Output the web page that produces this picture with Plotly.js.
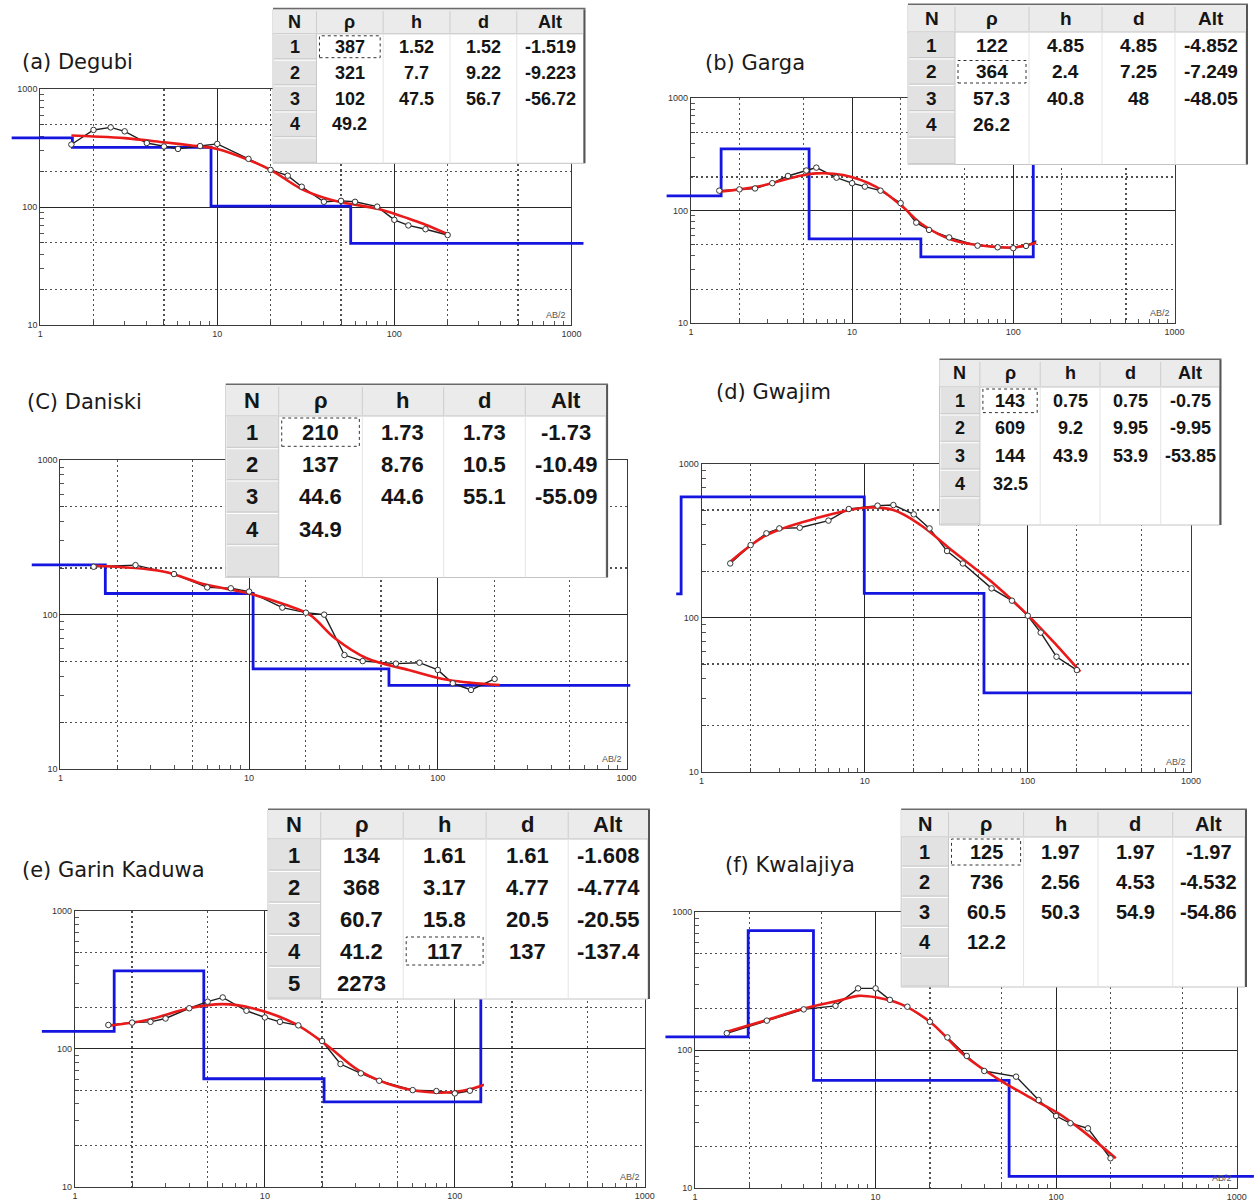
<!DOCTYPE html>
<html>
<head>
<meta charset="utf-8">
<script src="https://cdn.plot.ly/plotly-3.0.1.min.js"></script>
<style>
  html, body { margin:0; padding:0; background:#ffffff; }
  #chart { width:1254px; height:1201px; }
</style>
</head>
<body>
<div id="chart"></div>
<script>
// ================= DATA =================
// (a) Degubi
const abObsA  = [1.5, 2, 2.5, 3, 4, 5, 6, 8, 10, 15, 20, 25, 30, 40, 50, 60, 80, 100, 120, 150, 200];
const rhoObsA = [340, 452, 475, 440, 350, 327, 312, 330, 344, 257, 207, 185, 149, 111, 113, 111, 101, 78, 70, 65, 58];
const abFitA  = [1.5, 2, 3, 5, 7, 10, 15, 20, 30, 40, 50, 60, 80, 100, 120, 150, 200];
const rhoFitA = [405, 398, 385, 355, 335, 312, 252, 207, 142, 120, 110, 105, 97, 88, 80, 71, 59];
const modelRhoA = [387, 321, 102, 49.2];
const modelDepthA = [1.52, 9.22, 56.7];
const modelSpanA = [0.69, 1170];
const tabNA = ['1', '2', '3', '4'];
const tabRhoA = ['387', '321', '102', '49.2'];
const tabHA = ['1.52', '7.7', '47.5', ''];
const tabDA = ['1.52', '9.22', '56.7', ''];
const tabAltA = ['-1.519', '-9.223', '-56.72', ''];

// (b) Garga
const abObsB  = [1.5, 2, 2.5, 3.2, 4, 5.2, 6, 8, 10, 12, 15, 20, 25, 30, 40, 60, 80, 100, 120, 150, 200];
const rhoObsB = [151, 155, 158, 176, 204, 228, 242, 197, 176, 164, 151, 117, 78.5, 67.6, 58, 49, 47.4, 46.5, 48.7, 57, 67.6];
const abFitB  = [1.5, 2.6, 4.5, 6, 8.8, 14, 20.5, 27, 42, 74, 104, 145, 209];
const rhoFitB = [148, 164, 201, 215, 208, 164, 109, 76.4, 55, 48, 47.5, 53, 67.6];
const modelRhoB = [136, 355, 56.4, 38.9, 2200];
const modelDepthB = [1.54, 5.41, 26.7, 133];
const modelSpanB = [0.707, 133];
const tabNB = ['1', '2', '3', '4'];
const tabRhoB = ['122', '364', '57.3', '26.2'];
const tabHB = ['4.85', '2.4', '40.8', ''];
const tabDB = ['4.85', '7.25', '48', ''];
const tabAltB = ['-4.852', '-7.249', '-48.05', ''];

// (c) Daniski
const abObsC  = [1.5, 2.5, 4, 6, 8, 10, 15, 20, 25, 32, 40, 60, 80, 100, 120, 150, 200];
const rhoObsC = [204, 209, 183, 150, 148, 141, 111, 103, 100, 54.8, 50.1, 48.2, 48.9, 43.9, 36, 32.6, 38.4];
const abFitC  = [1.5, 3.5, 5.8, 10, 15.6, 21, 28.5, 42, 70, 114, 213];
const rhoFitC = [207, 190, 157, 137, 116, 99.6, 70.3, 52.2, 43.9, 37.8, 35.1];
const modelRhoC = [210, 137, 44.6, 34.9];
const modelDepthC = [1.73, 10.5, 55.1];
const modelSpanC = [0.705, 1047];
const tabNC = ['1', '2', '3', '4'];
const tabRhoC = ['210', '137', '44.6', '34.9'];
const tabHC = ['1.73', '8.76', '44.6', ''];
const tabDC = ['1.73', '10.5', '55.1', ''];
const tabAltC = ['-1.73', '-10.49', '-55.09', ''];

// (d) Gwajim
const abObsD  = [1.5, 2, 2.5, 3, 4, 6, 8, 12, 15, 20, 25, 32, 40, 60, 80, 100, 120, 150, 200];
const rhoObsD = [225, 296, 353, 380, 384, 427, 508, 534, 539, 469, 380, 271, 225, 155, 129, 103, 80, 55.8, 45.7];
const abFitD  = [1.5, 2.5, 5, 10, 15, 22, 35, 60, 100, 150, 210];
const rhoFitD = [231, 344, 441, 518, 500, 400, 269, 171, 104, 66.4, 44.6];
const modelRhoD = [143, 609, 144, 32.5];
const modelDepthD = [0.75, 9.95, 53.9];
const modelSpanD = [0.70, 1017];
const tabND = ['1', '2', '3', '4'];
const tabRhoD = ['143', '609', '144', '32.5'];
const tabHD = ['0.75', '9.2', '43.9', ''];
const tabDD = ['0.75', '9.95', '53.9', ''];
const tabAltD = ['-0.75', '-9.95', '-53.85', ''];

// (e) Garin Kaduwa
const abObsE  = [1.5, 2, 2.5, 3, 4, 5, 6, 8, 10, 12, 15, 20, 25, 32, 40, 60, 80, 100, 120, 150, 200];
const rhoObsE = [149, 155, 157, 166, 197, 220, 236, 189, 169, 157, 148, 114, 77.6, 66.4, 58.7, 50.2, 49.4, 47.5, 49.7, 56.9, 65.3];
const abFitE  = [1.5, 2.4, 4, 6, 8.6, 14.3, 21.6, 31, 51, 81, 110, 150, 208];
const rhoFitE = [147, 162, 197, 211, 197, 153, 104, 70.2, 52.6, 48.1, 49.7, 56.2, 68.3];
const modelRhoE = [134, 368, 60.7, 41.2, 2273];
const modelDepthE = [1.61, 4.77, 20.5, 137];
const modelSpanE = [0.67, 137];
const tabNE = ['1', '2', '3', '4', '5'];
const tabRhoE = ['134', '368', '60.7', '41.2', '2273'];
const tabHE = ['1.61', '3.17', '15.8', '117', ''];
const tabDE = ['1.61', '4.77', '20.5', '137', ''];
const tabAltE = ['-1.608', '-4.774', '-20.55', '-137.4', ''];

// (f) Kwalajiya
const abObsF  = [1.5, 2.5, 4, 6, 8, 10, 12, 15, 20, 25, 32, 40, 60, 80, 100, 120, 150, 200];
const rhoObsF = [133, 164, 198, 210, 281, 281, 232, 207, 161, 124, 91, 70.8, 64.4, 43.6, 33.4, 29.6, 27.2, 16.5];
const abFitF  = [1.5, 2.5, 4, 6.5, 8, 10, 13.7, 20, 31.6, 47, 76, 103, 138, 214];
const rhoFitF = [136, 166, 201, 232, 248, 242, 217, 161, 90, 62.7, 43.6, 34.9, 26.5, 16.5];
const modelRhoF = [125, 736, 60.5, 12.2];
const modelDepthF = [1.97, 4.53, 54.9];
const modelSpanF = [0.686, 1245];
const tabNF = ['1', '2', '3', '4'];
const tabRhoF = ['125', '736', '60.5', '12.2'];
const tabHF = ['1.97', '2.56', '50.3', ''];
const tabDF = ['1.97', '4.53', '54.9', ''];
const tabAltF = ['-1.97', '-4.532', '-54.86', ''];

// labels and ticks
const titles = ['(a) Degubi', '(b) Garga', '(C) Daniski', '(d) Gwajim', '(e) Garin Kaduwa', '(f) Kwalajiya'];
const tableHeader = ['N', 'ρ', 'h', 'd', 'Alt'];
const xAxisLabel = 'AB/2';
const xTickVals = [1, 10, 100, 1000];
const xTickText = ['1', '10', '100', '1000'];
const yTickVals = [10, 100, 1000];
const yTickText = ['10', '100', '1000'];
const xGridMinor = [2, 5, 20, 50, 200, 500];
const yGridMinor = [20, 50, 200, 500];
const xTickMinor = [3, 4, 6, 7, 8, 9, 30, 40, 60, 70, 80, 90, 300, 400, 600, 700, 800, 900];
const yTickMinor = [30, 40, 60, 70, 80, 90, 300, 400, 600, 700, 800, 900];

// ================= LAYOUT (positions / styles) =================
const W = 1254, H = 1201;
// plot frame in px: [left, right, top, bottom]
const frames = [
  [40.2, 571.4, 89.3, 325],
  [690.9, 1174.5, 98.3, 323.3],
  [60.4, 626.5, 460, 769.3],
  [701.5, 1190.9, 463.7, 771.7],
  [74.9, 644.8, 911, 1186.7],
  [695, 1236.7, 912.3, 1188.3]
];
// table box: left, right, top, header height, row height, font size, column width ratios
const tableGeom = [
  {l: 273, r: 583.5, t: 9.3, hh: 24.5, rh: 25.9, fs: 18, cw: [43.4, 66.6, 66.7, 66.7, 66.6], empty: true, sel: [0, 1]},
  {l: 908, r: 1246, t: 5, hh: 27, rh: 26.5, fs: 19, cw: [47, 74, 73, 73, 71], empty: true, sel: [1, 1]},
  {l: 225.7, r: 606.1, t: 385, hh: 31, rh: 32.3, fs: 22, cw: [53, 83.6, 81.3, 81.6, 80.8], empty: true, sel: [0, 1]},
  {l: 939.5, r: 1219.5, t: 360, hh: 27, rh: 27.6, fs: 18, cw: [40.4, 60.3, 59.8, 60.7, 58.8], empty: true, sel: [0, 1]},
  {l: 268, r: 648, t: 810, hh: 29, rh: 32, fs: 22, cw: [52.7, 82.5, 82.9, 82.1, 79.8], empty: false, sel: [3, 2]},
  {l: 901.2, r: 1245, t: 810, hh: 27, rh: 30, fs: 20, cw: [47.3, 75.1, 74.4, 74.7, 72.3], empty: true, sel: [0, 1]}
];
const titlePos = [[20, 61.7], [702.6, 63], [24.5, 401.7], [714, 391.7], [20, 870], [723, 865]];

const panels = [
  {obsX: abObsA, obsY: rhoObsA, fitX: abFitA, fitY: rhoFitA, mRho: modelRhoA, mDep: modelDepthA, mSpan: modelSpanA, cols: [tabNA, tabRhoA, tabHA, tabDA, tabAltA]},
  {obsX: abObsB, obsY: rhoObsB, fitX: abFitB, fitY: rhoFitB, mRho: modelRhoB, mDep: modelDepthB, mSpan: modelSpanB, cols: [tabNB, tabRhoB, tabHB, tabDB, tabAltB]},
  {obsX: abObsC, obsY: rhoObsC, fitX: abFitC, fitY: rhoFitC, mRho: modelRhoC, mDep: modelDepthC, mSpan: modelSpanC, cols: [tabNC, tabRhoC, tabHC, tabDC, tabAltC]},
  {obsX: abObsD, obsY: rhoObsD, fitX: abFitD, fitY: rhoFitD, mRho: modelRhoD, mDep: modelDepthD, mSpan: modelSpanD, cols: [tabND, tabRhoD, tabHD, tabDD, tabAltD]},
  {obsX: abObsE, obsY: rhoObsE, fitX: abFitE, fitY: rhoFitE, mRho: modelRhoE, mDep: modelDepthE, mSpan: modelSpanE, cols: [tabNE, tabRhoE, tabHE, tabDE, tabAltE]},
  {obsX: abObsF, obsY: rhoObsF, fitX: abFitF, fitY: rhoFitF, mRho: modelRhoF, mDep: modelDepthF, mSpan: modelSpanF, cols: [tabNF, tabRhoF, tabHF, tabDF, tabAltF]}
];

const tickFont = {family: 'Liberation Sans, Arial, sans-serif', size: 9, color: '#333333'};
const tabFont = 'Liberation Sans, Arial, sans-serif';
const titleFont = {family: 'DejaVu Sans, Verdana, sans-serif', size: 21, color: '#1a1a1a'};

function axId(n) { return n === 1 ? '' : String(n); }
const PX = v => v / W;
const PY = v => 1 - v / H;

const traces = [];
const shapes = [];
const annotations = [];
const layout = {
  width: W, height: H,
  margin: {l: 0, r: 0, t: 0, b: 0, pad: 0},
  paper_bgcolor: '#ffffff', plot_bgcolor: 'rgba(0,0,0,0)',
  showlegend: false
};

function rect(x0, x1, y0, y1, fill, lineColor, lineWidth, dash) {
  shapes.push({type: 'rect', xref: 'paper', yref: 'paper', layer: 'above',
    x0: PX(x0), x1: PX(x1), y0: PY(y1), y1: PY(y0),
    fillcolor: fill || 'rgba(0,0,0,0)',
    line: {color: lineColor || 'rgba(0,0,0,0)', width: lineWidth || 0, dash: dash || 'solid'}});
}
function seg(x0, y0, x1, y1, color, width) {
  shapes.push({type: 'line', xref: 'paper', yref: 'paper', layer: 'above',
    x0: PX(x0), x1: PX(x1), y0: PY(y0), y1: PY(y1), line: {color: color, width: width || 1}});
}

panels.forEach((p, k) => {
  const i = k + 1;
  const [L, R, T, B] = frames[k];
  const dx = (R - L) / 3;
  const xDom = [L / W, R / W];
  const yDom = [1 - B / H, 1 - T / H];

  layout['xaxis' + axId(i)] = {
    type: 'log', range: [0, 3], domain: xDom, anchor: 'y' + axId(i),
    tickmode: 'array', tickvals: xTickVals, ticktext: xTickText, ticks: '',
    showgrid: true, gridcolor: '#262626', gridwidth: 1,
    showline: true, linecolor: '#3a3a3a', linewidth: 1, mirror: true,
    zeroline: false, tickfont: tickFont, fixedrange: true,
    minor: {tickmode: 'array', tickvals: xGridMinor, showgrid: true, gridcolor: '#505050',
            griddash: '2px,3px', gridwidth: 1.2, ticks: 'inside', ticklen: 4, tickcolor: '#444444'}
  };
  layout['yaxis' + axId(i)] = {
    type: 'log', range: [1, 3], domain: yDom, anchor: 'x' + axId(i),
    tickmode: 'array', tickvals: yTickVals, ticktext: yTickText, ticks: '',
    showgrid: true, gridcolor: '#262626', gridwidth: 1,
    showline: true, linecolor: '#3a3a3a', linewidth: 1, mirror: true,
    zeroline: false, tickfont: tickFont, fixedrange: true,
    minor: {tickmode: 'array', tickvals: yGridMinor, showgrid: true, gridcolor: '#505050',
            griddash: '2px,3px', gridwidth: 1.2, ticks: 'inside', ticklen: 4, tickcolor: '#444444'}
  };
  layout['xaxis' + (12 + i)] = {
    type: 'log', range: [0, 3], overlaying: 'x' + axId(i), anchor: 'y' + axId(i),
    tickmode: 'array', tickvals: xTickMinor, showticklabels: false,
    ticks: 'inside', ticklen: 4, tickcolor: '#555555',
    showgrid: false, showline: false, zeroline: false, fixedrange: true
  };
  layout['yaxis' + (12 + i)] = {
    type: 'log', range: [1, 3], overlaying: 'y' + axId(i), anchor: 'x' + axId(i),
    tickmode: 'array', tickvals: yTickMinor, showticklabels: false,
    ticks: 'inside', ticklen: 4, tickcolor: '#555555',
    showgrid: false, showline: false, zeroline: false, fixedrange: true
  };
  // hidden axes with identical scale but a wider span, so the model line can run past the frame
  const p0 = Math.max(0, L + Math.log10(p.mSpan[0]) * dx - 1);
  const p1 = Math.min(W, L + Math.log10(p.mSpan[1]) * dx + 3);
  layout['xaxis' + (6 + i)] = {
    type: 'log', domain: [p0 / W, p1 / W], range: [(p0 - L) / dx, (p1 - L) / dx],
    anchor: 'y' + (6 + i), visible: false, fixedrange: true
  };
  layout['yaxis' + (6 + i)] = {
    type: 'log', domain: yDom, range: [1, 3], anchor: 'x' + (6 + i), visible: false, fixedrange: true
  };
  const xa = 'x' + (6 + i), ya = 'y' + (6 + i);

  // invisible placeholders so the frame subplot and tick-overlay axes are drawn
  const ghost = {type: 'scatter', mode: 'markers', x: [10], y: [100], marker: {opacity: 0, size: 1}, hoverinfo: 'skip'};
  traces.push(Object.assign({}, ghost, {xaxis: 'x' + axId(i), yaxis: 'y' + axId(i)}));
  traces.push(Object.assign({}, ghost, {xaxis: 'x' + (12 + i), yaxis: 'y' + axId(i)}));
  traces.push(Object.assign({}, ghost, {xaxis: 'x' + axId(i), yaxis: 'y' + (12 + i)}));

  // model step line from layer resistivities and depths
  const sx = [p.mSpan[0]], sy = [p.mRho[0]];
  p.mDep.forEach((d, j) => { sx.push(d, d); sy.push(p.mRho[j], p.mRho[j + 1]); });
  sx.push(p.mSpan[1]); sy.push(p.mRho[p.mRho.length - 1]);
  traces.push({type: 'scatter', mode: 'lines', x: sx, y: sy, xaxis: xa, yaxis: ya,
    line: {color: '#1515e0', width: 2.8}, hoverinfo: 'skip'});
  traces.push({type: 'scatter', mode: 'lines', x: p.obsX, y: p.obsY, xaxis: xa, yaxis: ya,
    line: {color: '#1e1e1e', width: 1.4}, hoverinfo: 'skip'});
  traces.push({type: 'scatter', mode: 'lines', x: p.fitX, y: p.fitY, xaxis: xa, yaxis: ya,
    line: {color: '#ea1a1a', width: 2.6, shape: 'spline', smoothing: 1}, hoverinfo: 'skip'});
  traces.push({type: 'scatter', mode: 'markers', x: p.obsX, y: p.obsY, xaxis: xa, yaxis: ya,
    marker: {symbol: 'circle', size: 5.5, color: '#ffffff', line: {color: '#333333', width: 1}}, hoverinfo: 'skip'});

  // ---- parameter table (drawn with shapes + annotations) ----
  const g = tableGeom[k];
  const nRows = p.cols[0].length + (g.empty ? 1 : 0);
  const sc = (g.r - g.l) / g.cw.reduce((a, b) => a + b, 0);
  const xs = [g.l];
  g.cw.forEach(w => xs.push(xs[xs.length - 1] + w * sc));
  const top = g.t, hb = g.t + g.hh, bottom = hb + nRows * g.rh;
  rect(g.l, g.r, top, bottom, '#ffffff', '#c4c4c4', 1);
  rect(g.l, g.r, top, hb, '#ebebeb');
  for (let c = 1; c < 5; c++) seg(xs[c], top + 2, xs[c], hb - 1, '#cdcdcd', 1);
  seg(g.l, hb, g.r, hb, '#c2c2c2', 1);
  for (let c = 2; c < 5; c++) seg(xs[c], hb, xs[c], bottom, '#e4e4e4', 1);
  for (let r = 0; r < nRows; r++) {
    const y0 = hb + r * g.rh;
    rect(xs[0] + 1, xs[1], y0 + 1, y0 + g.rh, '#e2e2e2');
    seg(xs[0] + 1, y0 + g.rh - 1, xs[1], y0 + g.rh - 1, '#cacaca', 1);
  }
  seg(xs[1], hb, xs[1], bottom, '#c8c8c8', 1);
  // dark window edge along the top and right
  rect(g.l, g.r + 2, top - 1.5, top, '#6a6a6a');
  rect(g.r, g.r + 2, top, bottom, '#555555');
  // dotted "selected cell" box
  const sy0 = hb + g.sel[0] * g.rh;
  rect(xs[g.sel[1]] + 3, xs[g.sel[1] + 1] - 3, sy0 + 2, sy0 + g.rh - 2, null, '#333333', 1, 'dot');
  // header and cell text
  const fnt = {family: tabFont, size: g.fs, color: '#151515'};
  tableHeader.forEach((h, c) => {
    annotations.push({xref: 'paper', yref: 'paper', x: PX((xs[c] + xs[c + 1]) / 2), y: PY(top + g.hh / 2),
      xanchor: 'center', yanchor: 'middle', text: '<b>' + h + '</b>', showarrow: false, font: fnt});
  });
  p.cols.forEach((col, c) => {
    col.forEach((v, r) => {
      if (!v) return;
      annotations.push({xref: 'paper', yref: 'paper', x: PX((xs[c] + xs[c + 1]) / 2), y: PY(hb + (r + 0.5) * g.rh),
        xanchor: 'center', yanchor: 'middle', text: '<b>' + v + '</b>', showarrow: false, font: fnt});
    });
  });

  // panel title and AB/2 label
  annotations.push({xref: 'paper', yref: 'paper', x: PX(titlePos[k][0]), y: PY(titlePos[k][1]),
    xanchor: 'left', yanchor: 'middle', text: titles[k], showarrow: false, font: titleFont});
  annotations.push({xref: 'x' + axId(i) + ' domain', yref: 'y' + axId(i) + ' domain', x: 1, y: 0,
    xanchor: 'right', yanchor: 'bottom', xshift: -3, yshift: 3, text: xAxisLabel, showarrow: false,
    font: {family: 'Liberation Sans, Arial, sans-serif', size: 9, color: '#555555'}});
});

layout.shapes = shapes;
layout.annotations = annotations;

Plotly.newPlot('chart', traces, layout, {staticPlot: true, displayModeBar: false});
</script>
</body>
</html>
